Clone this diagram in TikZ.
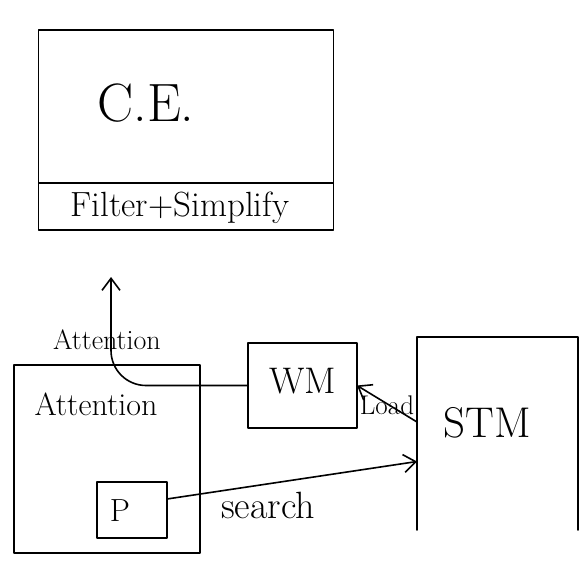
\documentclass[tikz,border=0pt]{standalone}
\usetikzlibrary{arrows.meta}
\begin{document}
\begin{tikzpicture}[x=1pt,y=-1pt,
  line width=1.6pt, line cap=round, line join=round,
  box/.style={draw, rectangle, inner sep=0pt, outer sep=0pt},
  ghost/.style={rectangle, inner sep=0pt, outer sep=0pt},
  txt/.style={inner sep=0pt},
  arr/.style={-{Straight Barb[length=12pt,width=18pt,line width=1.6pt]}},
]
\useasboundingbox (0,0) rectangle (583,561);
% Central executive
\node[box, minimum width=295pt, minimum height=153pt] (ce) at (186,106.5) {};
\node[txt, font=\fontsize{54}{58}\selectfont] (cet) at (146,103) {C.E.};
\node[box, minimum width=295pt, minimum height=47pt, anchor=north] (fs) at (ce.south) {};
\node[txt, font=\fontsize{35}{40}\selectfont] (fst) at (180,208) {Filter+Simplify};
% Attention
\node[box, minimum width=186pt, minimum height=188pt] (att) at (107,459) {};
\node[txt, font=\fontsize{32}{36}\selectfont] (attt) at (96,404) {Attention};
% P
\node[box, minimum width=70pt, minimum height=56pt] (p) at (132,510) {};
\node[txt, font=\fontsize{32}{36}\selectfont] (pt) at (120,511) {P};
% WM
\node[box, minimum width=109pt, minimum height=85pt] (wm) at (302.5,385.5) {};
\node[txt, font=\fontsize{37}{42}\selectfont] (wmt) at (303,381) {WM};
% STM (open at bottom)
\node[ghost, minimum width=161pt, minimum height=193pt] (stm) at (497.5,433.5) {};
\draw (stm.south west) -- (stm.north west) -- (stm.north east) -- (stm.south east);
\node[txt, font=\fontsize{43}{48}\selectfont] (stmt) at (487,423) {STM};
% Attention arrow from WM up to C.E.
\coordinate (atop) at (111,277);
\draw[arr, rounded corners=35pt] (wm.west) -| (atop);
\node[txt, font=\fontsize{28}{32}\selectfont] (attl) at (107,340) {Attention};
% Load arrow STM -> WM
\draw[arr] ([yshift=11.5pt]stm.west) -- (wm.east);
\node[txt, font=\fontsize{27}{31}\selectfont] (loadl) at (387,405) {Load};
% search arrow P -> STM
\draw[arr] ([yshift=11pt]p.east) -- ([yshift=-28pt]stm.west);
\node[txt, font=\fontsize{38}{42}\selectfont] (searchl) at (268,505) {search};
\end{tikzpicture}
\end{document}
